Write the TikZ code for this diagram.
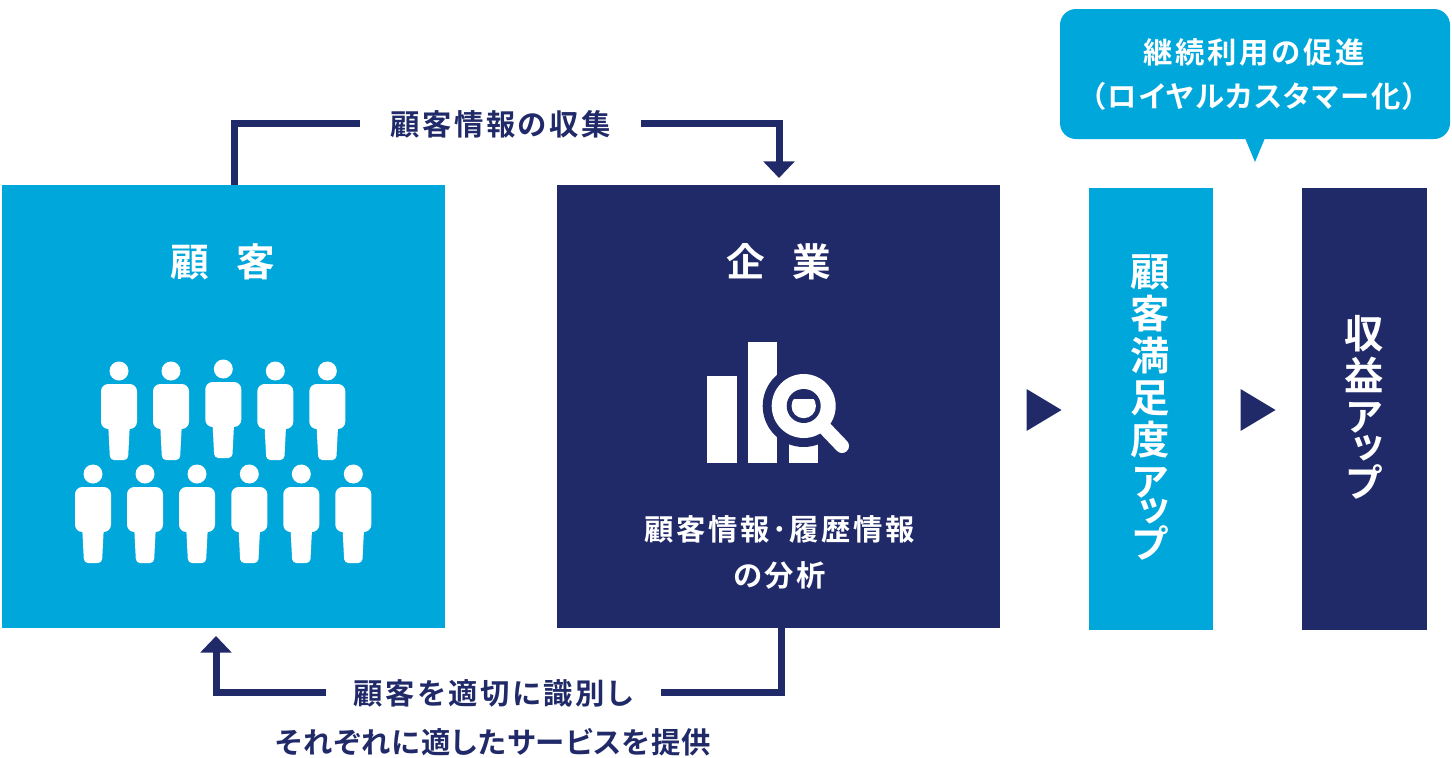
\documentclass[tikz,border=0pt]{standalone}
\usepackage{fontspec}
\usetikzlibrary{arrows.meta}
\newfontfamily\jp{Noto Sans CJK JP Bold}
\newfontfamily\jpsp{Noto Sans CJK JP Bold}[LetterSpace=9,RawFeature=+palt]
\newfontfamily\jpmid{Noto Sans CJK JP Bold}[LetterSpace=6,RawFeature=+palt]
\newfontfamily\jptight{Noto Sans CJK JP Bold}[LetterSpace=3.5,RawFeature=+palt]
\newfontfamily\jpv{Noto Sans CJK JP Bold}[RawFeature=+vert]
\definecolor{cy}{HTML}{00A7DB}
\definecolor{nv}{HTML}{212A69}
\newcommand{\personfig}[2]{%
  \begin{scope}[shift={(#1,#2)}]
    \fill[white] (0,0) circle (9.5);
    \fill[white,rounded corners=5.5pt] (-18,13) -- (18,13) -- (18,58) -- (-18,58) -- cycle;
    \fill[white,rounded corners=3pt] (-11,50) -- (11,50) -- (9,89) -- (-9,89) -- cycle;
  \end{scope}}
\tikzset{
  box/.style={anchor=north west,inner sep=0pt,outer sep=0pt},
  lbl/.style={font=\fontsize{22pt}{24pt}\selectfont\jpsp,text=nv,inner sep=0pt},
  whitelbl/.style={font=\fontsize{22pt}{24pt}\selectfont\jpsp,text=white,inner sep=0pt},
  title/.style={font=\fontsize{29pt}{30pt}\selectfont\jp,text=white,inner sep=0pt},
  vtext/.style={font=\fontsize{29.5pt}{31.5pt}\selectfont\jpv,text=white,align=center,inner sep=0pt},
  conn/.style={draw=nv,line width=5.25pt},
  tip/.style={-{Triangle[length=12.5pt,width=23pt]}},
}
\begin{document}
\begin{tikzpicture}[x=0.75pt,y=-0.75pt]
\useasboundingbox (0,0) rectangle (1452,757);
% boxes
\node[box,fill=cy,minimum width=443*0.75pt,minimum height=443*0.75pt] (cust) at (2,185) {};
\node[box,fill=nv,minimum width=443*0.75pt,minimum height=443*0.75pt] (comp) at (557,185) {};
\node[box,fill=cy,minimum width=124*0.75pt,minimum height=442*0.75pt] (sat) at (1089,188) {};
\node[box,fill=nv,minimum width=125*0.75pt,minimum height=442*0.75pt] (rev) at (1302,188) {};
% titles
\node[title] (custT) at (223,262) {顧\hspace{0.7em}客};
\node[title] (compT) at (778.5,262) {企\hspace{0.7em}業};
\node[whitelbl] (compL1) at (779.5,529) {顧客情報･履歴情報};
\node[whitelbl] (compL2) at (779.5,575) {の分析};
\node[vtext,anchor=north] (satT) at (1150.5,254) {顧\\客\\満\\足\\度\\ア\\[-9.75pt]ッ\\[-6.5pt]プ};
\node[vtext,anchor=north] (revT) at (1364.5,315) {収\\益\\[-1pt]ア\\[-8pt]ッ\\[-5pt]プ};
% labels
\node[lbl,inner xsep=29.5*0.75pt] (top) at (500.5,124) {顧客情報の収集};
\node[lbl,inner xsep=28*0.75pt] (bot1) at (493.5,693) {顧客を適切に識別し};
\node[lbl,font=\fontsize{22pt}{24pt}\selectfont\jptight] (bot2) at (493.5,742) {それぞれに適したサービスを提供};
% connectors
\coordinate (a1) at (234,185);
\coordinate (a2) at (779,178);
\coordinate (b1) at (781,628);
\coordinate (b2) at (216,636);
\draw[conn] (a1) |- ([yshift=0.75pt]top.west);
\draw[conn,tip] ([yshift=0.75pt]top.east) -| (a2);
\draw[conn] (b1) |- ([yshift=0.75pt]bot1.east);
\draw[conn,tip] ([yshift=0.75pt]bot1.west) -| (b2);
% flow triangles
\fill[nv] (1026.5,389) -- (1061.5,410) -- (1026.5,431) -- cycle;
\fill[nv] (1240.5,389) -- (1275.5,410) -- (1240.5,431) -- cycle;
% callout
\fill[cy,rounded corners=12pt] (1060,9) rectangle (1450,139);
\fill[cy] (1245,138) -- (1265,138) -- (1255,162) -- cycle;
\node[whitelbl] (call1) at (1254,52) {継続利用の促進};
\node[whitelbl,font=\fontsize{22pt}{24pt}\selectfont\jpmid] (call2) at (1254,96) {（ロイヤルカスタマー化）};
% people
\foreach \x in {119,171,275.3,327.3} {\personfig{\x}{371}}
\personfig{223.3}{369}
\foreach \x in {93,145,197,249.3,301.3,353.3} {\personfig{\x}{474}}
% icon
\fill[white] (707,376) rectangle (737,463);
\fill[white] (748,342) rectangle (777,463);
\fill[white] (788.5,430) rectangle (817.5,463);
\fill[nv] (803.7,406) circle (41);
\draw[white,line width=10.5pt,line cap=round] (820,423) -- (842,446);
\fill[white] (803.7,406) circle (32);
\fill[nv] (803.7,406) circle (17);
\begin{scope}
\clip (780,399.5) rectangle (830,430);
\fill[white] (803.7,406) circle (12.2);
\end{scope}
\end{tikzpicture}
\end{document}
